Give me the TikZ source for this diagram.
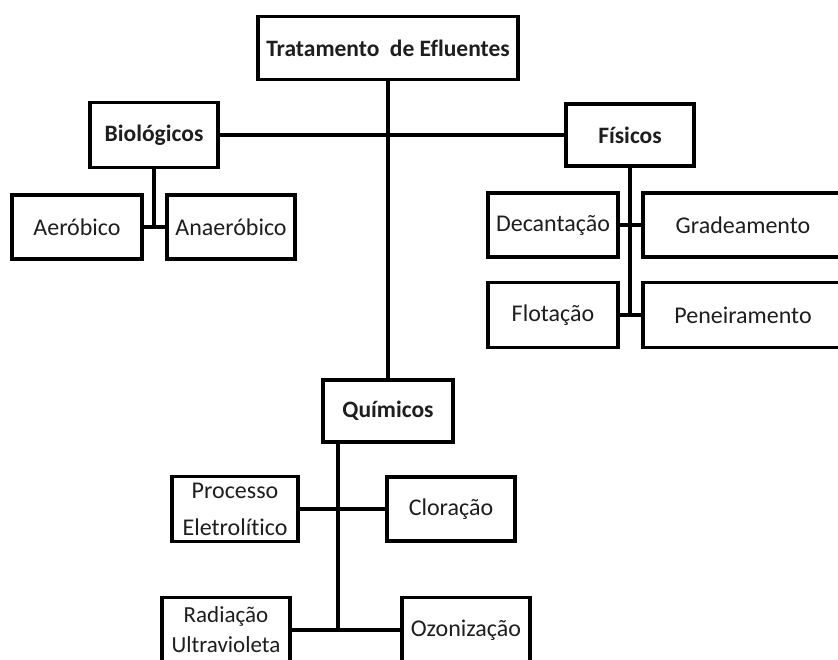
\documentclass[tikz,border=0pt]{standalone}
\usepackage{fontspec}
\setmainfont[Ligatures=NoCommon]{Carlito}
\usepackage{tikz}
\usetikzlibrary{positioning, calc}
\definecolor{inkgray}{RGB}{30, 30, 30}

\begin{document}
\begin{tikzpicture}[x=1pt, y=-1pt,
    box/.style={draw=black, line width=3.6pt, fill=white, inner sep=0pt, align=center,
      text=inkgray, font=\fontsize{24}{37}\selectfont},
    head/.style={box, font=\fontsize{23.5}{35}\selectfont\bfseries},
    link/.style={line width=3.8pt, black}]
  \clip (0,0) rectangle (838,659);
  \fill[white] (0,0) rectangle (838,659);

  % Trunk of the chemical branch sits left of centre
  \coordinate (qtrunk) at (338,442);

  % Root
  \node[head, minimum width=260pt, minimum height=63pt] (root) at (388,48) {Tratamento\ \ de Efluentes};

  % Main groups
  \node[head, minimum width=128pt, minimum height=65pt] (bio) at (154,135) {Biológicos};
  \node[head, minimum width=128pt, minimum height=62pt] (fis) at (630,135) {Físicos};
  \node[head, minimum width=130pt, minimum height=62pt] (qui) at (388,411) {Químicos};

  % Biological
  \node[box, minimum width=130pt, minimum height=64pt] (aer) at (77,227) {Aeróbico};
  \node[box, minimum width=128pt, minimum height=64pt] (ana) at (231,227) {Anaeróbico};

  % Physical
  \node[box, minimum width=130pt, minimum height=64pt] (dec) at (553,225) {Decantação};
  \node[box, minimum width=200pt, minimum height=64pt] (gra) at (743,225) {Gradeamento};
  \node[box, minimum width=130pt, minimum height=65pt] (flo) at (553,315) {Flotação};
  \node[box, minimum width=200pt, minimum height=65pt] (pen) at (743,315) {Peneiramento};

  % Chemical
  \node[box, minimum width=126pt, minimum height=65pt] (ele) at (235,509) {Processo\\Eletrolítico};
  \node[box, minimum width=128pt, minimum height=64pt] (clo) at (451,509) {Cloração};
  \node[box, minimum width=128pt, minimum height=65pt, font=\fontsize{23}{30}\selectfont] (uvr) at (226,630) {Radiação\\Ultravioleta};
  \node[box, minimum width=128pt, minimum height=65pt] (ozo) at (466,630) {Ozonização};

  % Tree lines
  \draw[link] (root.south) -- (qui.north);
  \draw[link] (bio.east) -- (fis.west);
  \draw[link] (bio.south) -- (bio |- aer);
  \draw[link] (aer.east) -- (ana.west);
  \draw[link] (fis.south) -- (fis |- flo);
  \draw[link] (dec.east) -- (gra.west);
  \draw[link] (flo.east) -- (pen.west);
  \draw[link] (qtrunk) -- (qtrunk |- uvr);
  \draw[link] (ele.east) -- (clo.west);
  \draw[link] (uvr.east) -- (ozo.west);
\end{tikzpicture}
\end{document}
